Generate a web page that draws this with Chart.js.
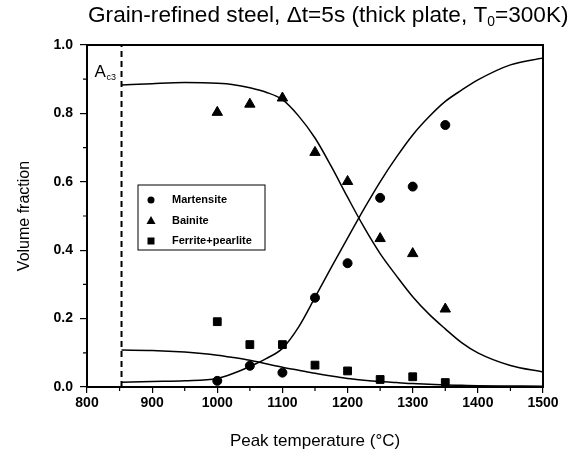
<!DOCTYPE html>
<html>
<head>
<meta charset="utf-8">
<script src="https://cdn.jsdelivr.net/npm/chart.js@4"></script>
<style>
  html, body { margin: 0; background: #fff; }
</style>
</head>
<body>
<canvas id="chart" width="571" height="457"></canvas>
<script>
// measured points
const peakTemps = [1000, 1050, 1100, 1150, 1200, 1250, 1300, 1350];
const martensite = [0.018, 0.062, 0.042, 0.261, 0.362, 0.553, 0.586, 0.766];
const bainite = [0.803, 0.827, 0.845, 0.686, 0.601, 0.434, 0.39, 0.228];
const ferritePearlite = [0.191, 0.124, 0.124, 0.064, 0.047, 0.022, 0.030, 0.013];

// fitted curves
const fitTemps = [853, 900, 950, 1000, 1025, 1050, 1075, 1100, 1125, 1150, 1175, 1200, 1225, 1250, 1275, 1300, 1325, 1350, 1375, 1400, 1450, 1500];
const martensiteFit = [0.014, 0.016, 0.018, 0.025, 0.04, 0.06, 0.083, 0.113, 0.176, 0.262, 0.35, 0.435, 0.52, 0.60, 0.672, 0.737, 0.79, 0.835, 0.868, 0.898, 0.942, 0.962];
const bainiteFit = [0.883, 0.887, 0.89, 0.888, 0.884, 0.875, 0.862, 0.84, 0.792, 0.728, 0.645, 0.555, 0.468, 0.39, 0.325, 0.264, 0.213, 0.17, 0.13, 0.10, 0.063, 0.044];
const ferriteFit = [0.108, 0.107, 0.102, 0.093, 0.086, 0.078, 0.068, 0.058, 0.049, 0.04, 0.032, 0.025, 0.02, 0.016, 0.013, 0.01, 0.008, 0.006, 0.005, 0.004, 0.003, 0.002];

const ac3Temp = 853;
const xTicks = [800, 900, 1000, 1100, 1200, 1300, 1400, 1500];
const yTicks = [0.0, 0.2, 0.4, 0.6, 0.8, 1.0];

const FONT = '"Liberation Sans", Arial, sans-serif';
Chart.defaults.font.family = FONT;
Chart.defaults.color = "#000";

const pts = (xs, ys) => xs.map((x, i) => ({ x: x, y: ys[i] }));

const curve = (ys) => ({
  data: pts(fitTemps, ys),
  showLine: true,
  borderColor: "#000",
  borderWidth: 1.5,
  pointRadius: 0,
  cubicInterpolationMode: "monotone"
});

const marks = (label, ys, style, r) => ({
  label: label,
  data: pts(peakTemps, ys),
  showLine: false,
  pointStyle: style,
  pointRadius: r,
  backgroundColor: "#000",
  borderColor: "#000",
  borderWidth: 1
});

// frame, minor ticks, title, A_c3 label and legend box
const extras = {
  id: "extras",
  afterDraw(chart) {
    const { ctx, chartArea: a, scales } = chart;
    ctx.save();
    ctx.strokeStyle = "#000";
    ctx.lineWidth = 2;
    ctx.strokeRect(a.left, a.top, a.right - a.left, a.bottom - a.top);

    ctx.lineWidth = 1.2;
    ctx.beginPath();
    for (let t = 850; t < 1500; t += 100) {
      const px = scales.x.getPixelForValue(t);
      ctx.moveTo(px, a.bottom);
      ctx.lineTo(px, a.bottom + 4);
    }
    for (let v = 0.1; v < 1; v += 0.2) {
      const py = scales.y.getPixelForValue(v);
      ctx.moveTo(a.left, py);
      ctx.lineTo(a.left - 4, py);
    }
    ctx.stroke();

    // title, sized to span x 88..569 like the original
    ctx.fillStyle = "#000";
    ctx.textBaseline = "alphabetic";
    const s1 = "Grain-refined steel, \u0394t=5s (thick plate, T";
    const s2 = "=300K)";
    let fs = 18;
    ctx.font = fs + "px " + FONT;
    let w = ctx.measureText(s1 + s2).width;
    ctx.font = Math.round(fs * 0.6) + "px " + FONT;
    w += ctx.measureText("0").width;
    fs = fs * 481 / w;
    let x = 88;
    ctx.font = fs + "px " + FONT;
    ctx.fillText(s1, x, 22);
    x += ctx.measureText(s1).width;
    ctx.font = Math.round(18 * 0.6) * fs / 18 + "px " + FONT;
    ctx.fillText("0", x, 26);
    x += ctx.measureText("0").width;
    ctx.font = fs + "px " + FONT;
    ctx.fillText(s2, x, 22);

    // A_c3 label
    const ax = scales.x.getPixelForValue(ac3Temp);
    ctx.font = "17px " + FONT;
    ctx.fillText("A", ax - 27, 77);
    ctx.font = "9px " + FONT;
    ctx.fillText("c3", ax - 15, 80);

    // legend
    const lx = a.left + 51, ly = a.top + 140;
    ctx.lineWidth = 1;
    ctx.strokeRect(lx, ly, 127, 65);
    const rows = [["Martensite", "circle"], ["Bainite", "triangle"], ["Ferrite+pearlite", "rect"]];
    ctx.font = "bold 11px " + FONT;
    ctx.textBaseline = "middle";
    rows.forEach((r, i) => {
      const cy = ly + 15 + i * 20.5;
      const cx = lx + 13;
      ctx.beginPath();
      if (r[1] === "circle") ctx.arc(cx, cy, 3.5, 0, Math.PI * 2);
      else if (r[1] === "triangle") { ctx.moveTo(cx, cy - 4.5); ctx.lineTo(cx + 4.5, cy + 3.5); ctx.lineTo(cx - 4.5, cy + 3.5); ctx.closePath(); }
      else ctx.rect(cx - 3.5, cy - 3.5, 7, 7);
      ctx.fill();
      ctx.fillText(r[0], lx + 34, cy);
    });
    ctx.restore();
  }
};

new Chart(document.getElementById("chart"), {
  type: "scatter",
  data: {
    datasets: [
      {
        data: [{ x: ac3Temp, y: 0 }, { x: ac3Temp, y: 1 }],
        showLine: true,
        borderColor: "#000",
        borderWidth: 2,
        borderDash: [6, 4],
        pointRadius: 0
      },
      curve(martensiteFit),
      curve(bainiteFit),
      curve(ferriteFit),
      marks("Martensite", martensite, "circle", 4.5),
      marks("Bainite", bainite, "triangle", 6),
      marks("Ferrite+pearlite", ferritePearlite, "rect", 5.5)
    ]
  },
  options: {
    responsive: false,
    animation: false,
    layout: { padding: { top: 45, right: 28, left: 0, bottom: 0 } },
    plugins: { legend: { display: false }, tooltip: { enabled: false } },
    scales: {
      x: {
        type: "linear",
        min: 800,
        max: 1500,
        afterBuildTicks: (s) => { s.ticks = xTicks.map(v => ({ value: v })); },
        afterFit: (s) => { s.height = 70; },
        ticks: { font: { size: 14, weight: "bold" }, padding: 2, maxRotation: 0, callback: (v) => String(v) },
        grid: { drawOnChartArea: false, tickLength: 6, color: "#000", lineWidth: 1.2 },
        border: { display: true, color: "#000", width: 2 },
        title: { display: true, text: "Peak temperature (\u00B0C)", font: { size: 17 }, padding: { top: 0, bottom: 5 } }
      },
      y: {
        min: 0,
        max: 1,
        afterBuildTicks: (s) => { s.ticks = yTicks.map(v => ({ value: v })); },
        afterFit: (s) => { s.width = 87; },
        ticks: { font: { size: 14, weight: "bold" }, padding: 7, callback: (v) => Number(v).toFixed(1) },
        grid: { drawOnChartArea: false, tickLength: 7, color: "#000", lineWidth: 1.2 },
        border: { display: true, color: "#000", width: 2 },
        title: { display: true, text: "Volume fraction", font: { size: 16 }, padding: { top: 15, bottom: 0 } }
      }
    }
  },
  plugins: [extras]
});
</script>
</body>
</html>
